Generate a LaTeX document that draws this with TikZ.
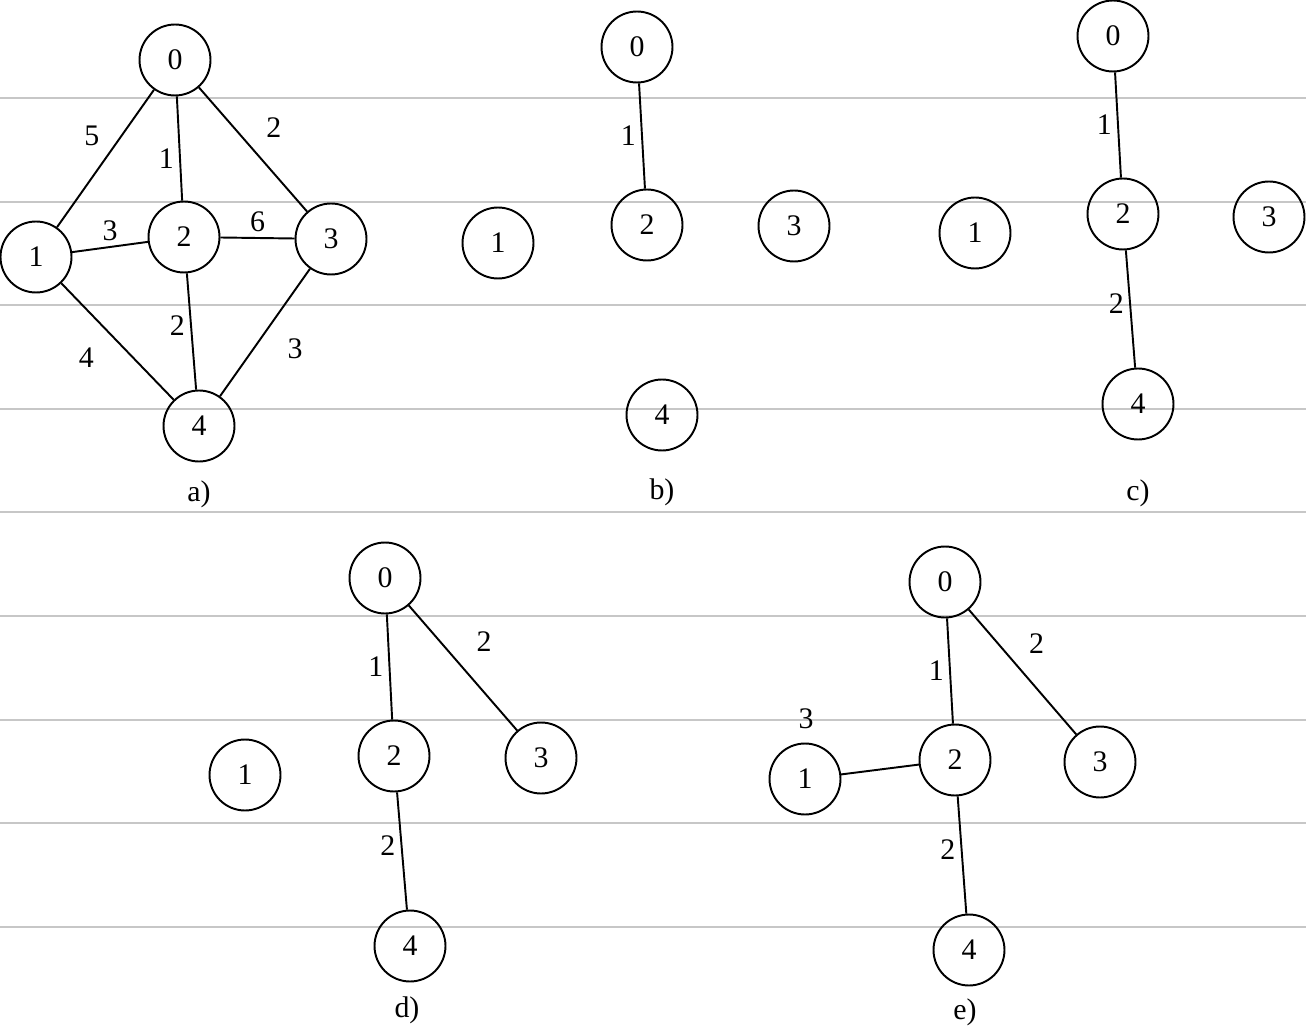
\documentclass[tikz,border=0pt]{standalone}
\usepackage{fontspec}
\setmainfont{Liberation Serif}
\usetikzlibrary{positioning}
\begin{document}
\begin{tikzpicture}[
x=0.02cm,y=-0.02cm,
vtx/.style={circle,draw,line width=1.1pt,minimum size=1.42cm,inner sep=0pt,font=\fontsize{17}{20}\selectfont},
wt/.style={inner sep=3pt,font=\fontsize{17}{20}\selectfont},
subcap/.style={font=\fontsize{17}{20}\selectfont},
link/.style={line width=1.1pt},
ruling/.style={draw=black!22,line width=0.6pt}
]
\useasboundingbox (0,0) rectangle (1306,1027);
% faint ruled lines of the page
\foreach \yy in {98,202,305,409,512,616,720,823,927}
  \draw[ruling] (0,\yy) -- (1306,\yy);

% a) full graph
\node[vtx] (a0) at (175,60) {0};
\node[vtx] (a1) at (36,257) {1};
\node[vtx] (a2) at (184,237) {2};
\node[vtx] (a3) at (331,239) {3};
\node[vtx] (a4) at (199,426) {4};
\node[subcap] (la) at (199,494) {a)};
\draw[link] (a0) -- node[wt,above left,yshift=0.12cm] {5} (a1);
\draw[link] (a0) -- node[wt,left,pos=0.6] {1} (a2);
\draw[link] (a0) -- node[wt,above right,pos=0.45,xshift=0.25cm] {2} (a3);
\draw[link] (a1) -- node[wt,above] {3} (a2);
\draw[link] (a2) -- node[wt,above] {6} (a3);
\draw[link] (a1) -- node[wt,below left,xshift=-0.35cm] {4} (a4);
\draw[link] (a2) -- node[wt,left,pos=0.45] {2} (a4);
\draw[link] (a3) -- node[wt,below right,xshift=0.33cm] {3} (a4);

% b)
\node[vtx] (b0) at (637,47) {0};
\node[vtx] (b1) at (498,243) {1};
\node[vtx] (b2) at (647,225) {2};
\node[vtx] (b3) at (794,226) {3};
\node[vtx] (b4) at (662,415) {4};
\node[subcap] (lb) at (662,492) {b)};
\draw[link] (b0) -- node[wt,left] {1} (b2);

% c)
\node[vtx] (c0) at (1113,36) {0};
\node[vtx] (c1) at (975,233) {1};
\node[vtx] (c2) at (1123,214) {2};
\node[vtx] (c3) at (1269,217) {3};
\node[vtx] (c4) at (1138,404) {4};
\node[subcap] (lc) at (1138,493) {c)};
\draw[link] (c0) -- node[wt,left] {1} (c2);
\draw[link] (c2) -- node[wt,left,pos=0.45] {2} (c4);

% d)
\node[vtx] (d0) at (385,578) {0};
\node[vtx] (d1) at (245,775) {1};
\node[vtx] (d2) at (394,756) {2};
\node[vtx] (d3) at (541,758) {3};
\node[vtx] (d4) at (410,946) {4};
\node[subcap] (ld) at (407,1010) {d)};
\draw[link] (d0) -- node[wt,left] {1} (d2);
\draw[link] (d0) -- node[wt,above right,pos=0.42,xshift=0.32cm] {2} (d3);
\draw[link] (d2) -- node[wt,left,pos=0.45] {2} (d4);

% e)
\node[vtx] (e0) at (945,582) {0};
\node[vtx] (e1) at (805,779) {1};
\node[vtx] (e2) at (955,760) {2};
\node[vtx] (e3) at (1100,762) {3};
\node[vtx] (e4) at (969,950) {4};
\node[subcap] (le) at (965,1012) {e)};
\draw[link] (e0) -- node[wt,left] {1} (e2);
\draw[link] (e0) -- node[wt,above right,pos=0.4,xshift=0.22cm] {2} (e3);
\draw[link] (e2) -- node[wt,left,pos=0.45] {2} (e4);
\draw[link] (e1) -- (e2);
\node[wt] (w12) at (806,719) {3};
\end{tikzpicture}
\end{document}
